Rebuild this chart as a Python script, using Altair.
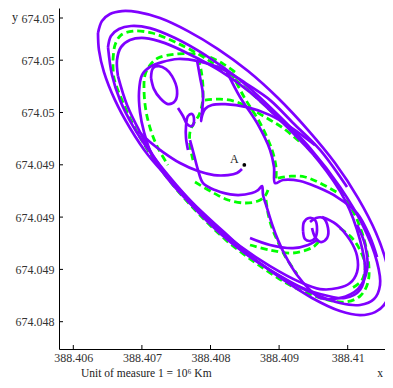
import altair as alt
import pandas as pd

# Reference origin, units of 10^6 km; segment points are offsets in km
X_REF = 388.406
Y_REF = 674.048

X_TICKS = [388.406, 388.407, 388.408, 388.409, 388.41]
Y_TICKS = [674.0484, 674.0487, 674.0490, 674.0493, 674.0496, 674.0499, 674.050142]

# ---- solid (purple) trajectory pieces, km offsets ----
P1 = [(360,2056),(418,2125),(535,2165),(710,2182),(943,2176),(1264,2142),(1672,2067),(2109,1964),
      (2547,1838),(2984,1683),(3422,1499),(3815,1310),(4151,1109),(4413,909),(4574,725),(4617,616),
      (4559,513),(4399,455),(4180,438),(3888,461),(3480,536),(3043,645),(2605,771),(2197,914),
      (1789,1063),(1410,1213),(1089,1356),(826,1511),(608,1671),(447,1832),(374,1958),(360,2056)]
P2 = [(506,1975),(549,2039),(666,2079),(841,2096),(1118,2084),(1483,2027),(1920,1930),(2430,1786),
      (2941,1603),(3451,1396),(3888,1172),(4224,949),(4428,742),(4471,610),(4384,530),(4180,496),
      (3888,507),(3451,570),(3013,662),(2576,771),(2168,903),(1803,1052),(1439,1213),(1118,1373),
      (870,1522),(681,1671),(564,1815),(506,1975)]
P3 = [(651,1809),(637,1901),(695,1975),(826,2016),(1045,2027),(1337,1998),(1774,1918),(2168,1832),
      (2576,1717),(3086,1528),(3567,1327),(3961,1098),(4180,868),(4253,696),(4180,582),(3961,536),
      (3597,559),(3159,627),(2693,742),(2255,868),(1847,1018),(1497,1172),(1205,1327),(972,1488),
      (783,1643),(651,1809)]
E1 = [(1133,1798),(1162,1855),(1249,1866),(1351,1849),(1439,1809),(1512,1729),(1483,1666),
      (1380,1648),(1264,1683),(1176,1734),(1133,1798)]
Q = [(3990,1172),(3597,1385),(3203,1540),(2868,1671),(2532,1763),(2357,1809),(2109,1861),(1818,1895),
     (1526,1907),(1293,1889),(1118,1861),(1001,1815),(958,1717),(972,1603),(1031,1488),(1147,1356),
     (1337,1241),(1628,1109),(1993,972),(2430,834),(2868,719),(3305,627),(3597,587),(3859,593),
     (4034,622),(4136,685),(4136,777),(4034,868),(3830,960),(3626,1000)]
P4 = [(1803,1901),(1847,1803),(1891,1700),(1876,1603),(1862,1551),(1876,1580),(1920,1620),
      (2022,1643),(2212,1648),(2532,1631),(2868,1585),(3188,1511),(3524,1413)]
T1 = [(1672,1385),(1643,1453),(1643,1522),(1672,1580),(1730,1591),(1760,1557),(1730,1522),
      (1657,1534),(1599,1580),(1526,1626)]
C1 = [(2459,1276),(2386,1253),(2255,1241),(2051,1241),(1818,1264),(1555,1310),(1308,1373),
      (1118,1431),(943,1494)]
C2 = [(1701,1442),(1760,1356),(1818,1270),(1891,1195),(2066,1155),(2357,1127),(2605,1138),
      (2693,1155),(2751,1178),(2766,1127),(2824,1052),(2897,960),(2984,868),(3086,782),
      (3261,668),(3451,582),(3597,536),(3888,536),(4151,588),(4282,696),(4253,840),(4136,955)]
C3 = [(2241,1832),(2430,1689),(2678,1540),(2868,1385),(2926,1287),(2941,1195),(3057,1213),
      (3305,1207),(3553,1172),(3844,1115),(4136,1023),(4326,886),(4428,771)]
L2 = [(3349,920),(3363,972),(3436,995),(3524,983),(3553,926),(3524,880),(3451,863),(3378,874),(3349,920)]
L2B = [(3451,972),(3538,995),(3640,995),(3713,937),(3699,880),(3611,857),(3524,886),(3480,937)]
L4 = [(2576,880),(2868,840),(3203,822),(3422,840),(3553,868)]

# ---- dashed (green) trajectory pieces, km offsets ----
G1 = [(579,1901),(608,1987),(695,2044),(870,2067),(1147,2056),(1483,2004),(1920,1912),(2401,1775),
      (2897,1603),(3392,1408),(3830,1195),(4151,972),(4296,765),(4296,627),(4180,547),(3961,513),
      (3567,541),(3130,616),(2663,736),(2226,868),(1818,1023),(1453,1184),(1162,1339),(914,1499),
      (710,1671),(593,1798),(579,1901)]
G2 = [(2357,1832),(2212,1872),(2022,1912),(1774,1935),(1483,1935),(1235,1912),(1118,1872),
      (1045,1815),(1031,1729),(1060,1608),(1133,1494),(1235,1396),(1380,1299)]
G3 = [(1818,1912),(1862,1844),(1891,1740),(1876,1643),(1832,1585),(1760,1540),(1701,1488),
      (1701,1413),(1745,1327)]
G4 = [(1920,1671),(2139,1677),(2386,1660),(2620,1614),(2868,1557),(3057,1511),(3305,1431)]
G5 = [(1774,1201),(2022,1144),(2255,1098),(2503,1081),(2693,1092),(2795,1121),(2838,1155)]
G5B = [(2809,1098),(2838,1023),(2897,937),(2984,857),(3086,777),(3261,673)]
G6 = [(2299,1832),(2489,1689),(2722,1540),(2897,1385),(2955,1287),(2955,1213)]
G6B = [(2984,1224),(3174,1235),(3378,1230),(3597,1195),(3859,1138)]
G7 = [(3888,937),(4063,880),(4180,811),(4253,725),(4209,639),(4063,593)]
G8 = [(2576,840),(2868,811),(3203,794),(3495,828),(3597,868)]

POINT_A = (2493, 1299)

purple = {"P1": P1, "P2": P2, "P3": P3, "E1": E1, "Q": Q, "P4": P4, "T1": T1, "C1": C1,
          "C2": C2, "C3": C3, "L2": L2, "L2B": L2B, "L4": L4}
green = {"G1": G1, "G2": G2, "G3": G3, "G4": G4, "G5": G5, "G5B": G5B, "G6": G6,
         "G6B": G6B, "G7": G7, "G8": G8}


def frame(segs):
    rows = []
    for name, pts in segs.items():
        for i, (xk, yk) in enumerate(pts):
            rows.append({"seg": name, "i": i, "x": X_REF + xk / 1e6, "y": Y_REF + yk / 1e6})
    return pd.DataFrame(rows)


dp = frame(purple)
dg = frame(green)
da = pd.DataFrame([{"x": X_REF + POINT_A[0] / 1e6, "y": Y_REF + POINT_A[1] / 1e6, "t": "A"}])

W, H = 326, 341
XD = [388.4057915, 388.4105437]
YD = [674.0482434, 674.0501994]
FONT = "Liberation Serif"

xs = alt.Scale(domain=XD, nice=False, zero=False)
ys = alt.Scale(domain=YD, nice=False, zero=False)
xax = alt.Axis(values=X_TICKS, format=".3~f", ticks=False, grid=False, title=None,
               labelFont=FONT, labelFontSize=12, labelColor="#333", labelPadding=3,
               domainColor="black", domainWidth=1, labelFlush=False, labelOverlap=False)
yax = alt.Axis(values=Y_TICKS, format=".3~f", ticks=False, grid=False, title=None,
               labelFont=FONT, labelFontSize=12, labelColor="#333", labelPadding=5,
               domainColor="black", domainWidth=1, labelFlush=False, labelOverlap=False)

base_g = alt.Chart(dg).mark_line(color="#00ff00", strokeWidth=2.8, strokeDash=[7, 4],
                                 interpolate="catmull-rom").encode(
    x=alt.X("x:Q", scale=xs, axis=xax),
    y=alt.Y("y:Q", scale=ys, axis=yax),
    detail="seg:N", order="i:Q")

base_p = alt.Chart(dp).mark_line(color="#8000ff", strokeWidth=2.7,
                                 interpolate="catmull-rom").encode(
    x=alt.X("x:Q", scale=xs), y=alt.Y("y:Q", scale=ys),
    detail="seg:N", order="i:Q")

dot = alt.Chart(da).mark_circle(size=14, color="black", opacity=1).encode(
    x=alt.X("x:Q", scale=xs), y=alt.Y("y:Q", scale=ys))
lab = alt.Chart(da).mark_text(font=FONT, fontSize=12, color="#222", dx=-10, dy=-2,
                              baseline="alphabetic").encode(
    x=alt.X("x:Q", scale=xs), y=alt.Y("y:Q", scale=ys), text="t:N")

xt = alt.Chart(pd.DataFrame({"v": X_TICKS})).mark_rule(color="black", strokeWidth=1).encode(
    x=alt.X("v:Q", scale=xs), y=alt.value(H - 4), y2=alt.value(H))
yt = alt.Chart(pd.DataFrame({"v": Y_TICKS})).mark_rule(color="black", strokeWidth=1).encode(
    y=alt.Y("v:Q", scale=ys), x=alt.value(0), x2=alt.value(4))

titles = pd.DataFrame([
    {"t": "y", "px": -44, "py": 13, "a": "center", "s": 12},
    {"t": "x", "px": 321, "py": 369, "a": "center", "s": 11.5},
    {"t": "Unit of measure 1 = 10\u2076 Km", "px": 22, "py": 369, "a": "left", "s": 11.5},
])
tl = []
for _, r in titles.iterrows():
    tl.append(alt.Chart(pd.DataFrame([r])).mark_text(font=FONT, fontSize=float(r["s"]), color="#222",
                                                      align=r["a"], baseline="alphabetic").encode(
        x=alt.value(r["px"]), y=alt.value(r["py"]), text="t:N"))

chart = alt.layer(base_g, base_p, dot, lab, xt, yt, *tl).properties(
    width=W, height=H, padding={"left": 51, "top": 0, "right": 0, "bottom": 31},
    autosize="none",
).configure_view(stroke=None)

chart.save("out.html", embed_options={"renderer": "svg", "actions": False})
